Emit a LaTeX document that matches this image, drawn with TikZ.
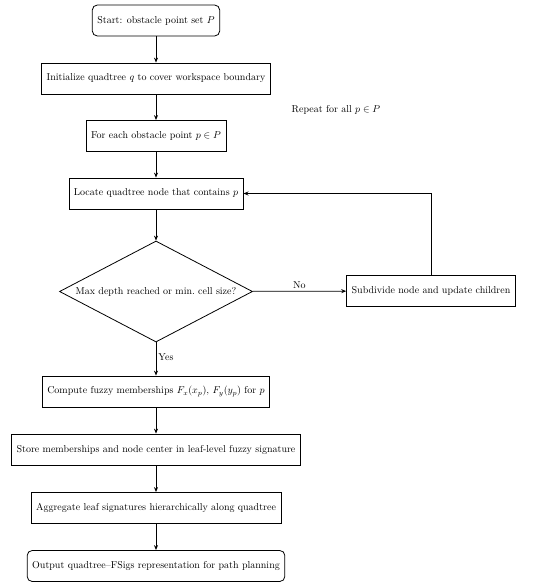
\documentclass[tikz,border=0pt]{standalone}
\usepackage{amssymb}
\usetikzlibrary{shapes.geometric,arrows.meta}
\begin{document}
\begin{tikzpicture}[x=1pt,y=-1pt,
  every node/.style={font=\normalsize},
  proc/.style={draw, line width=0.8pt, rectangle, minimum height=31pt, inner xsep=5pt},
  term/.style={proc, rounded corners=5pt},
  decision/.style={draw, line width=0.8pt, diamond, minimum width=193pt, minimum height=101pt, inner sep=0pt},
  flow/.style={line width=0.8pt, -{Stealth[length=5pt,width=4pt]}},
  lbl/.style={inner sep=2pt}]
\useasboundingbox (0,0) rectangle (550,586);
\node[term] (start) at (156,20.5) {Start: obstacle point set $P$};
\node[proc] (init) at (156,78.5) {Initialize quadtree $q$ to cover workspace boundary};
\node[lbl] (rep) at (336,110) {Repeat for all $p \in P$};
\node[proc] (each) at (156,136) {For each obstacle point $p \in P$};
\node[proc] (loc) at (156,193.5) {Locate quadtree node that contains $p$};
\node[decision, label={center:Max depth reached or min.\ cell size?}] (dec) at (156,291.5) {};
\node[proc] (sub) at (431,291) {Subdivide node and update children};
\node[proc] (comp) at (156,391.5) {Compute fuzzy memberships $F_x(x_p)$, $F_y(y_p)$ for $p$};
\node[proc] (store) at (156,449.5) {Store memberships and node center in leaf-level fuzzy signature};
\node[proc] (agg) at (156,508) {Aggregate leaf signatures hierarchically along quadtree};
\node[term] (out) at (156,566) {Output quadtree--FSigs representation for path planning};
\draw[flow] (start) -- (init);
\draw[flow] (init) -- (each);
\draw[flow] (each) -- (loc);
\draw[flow] (loc) -- (dec);
\draw[flow] (dec) -- node[lbl, above] {No} (sub);
\draw[flow] (dec) -- node[lbl, right, pos=0.45] {Yes} (comp);
\draw[flow] (sub.north) |- (loc.east);
\draw[flow] (comp) -- (store);
\draw[flow] (store) -- (agg);
\draw[flow] (agg) -- (out);
\end{tikzpicture}
\end{document}
